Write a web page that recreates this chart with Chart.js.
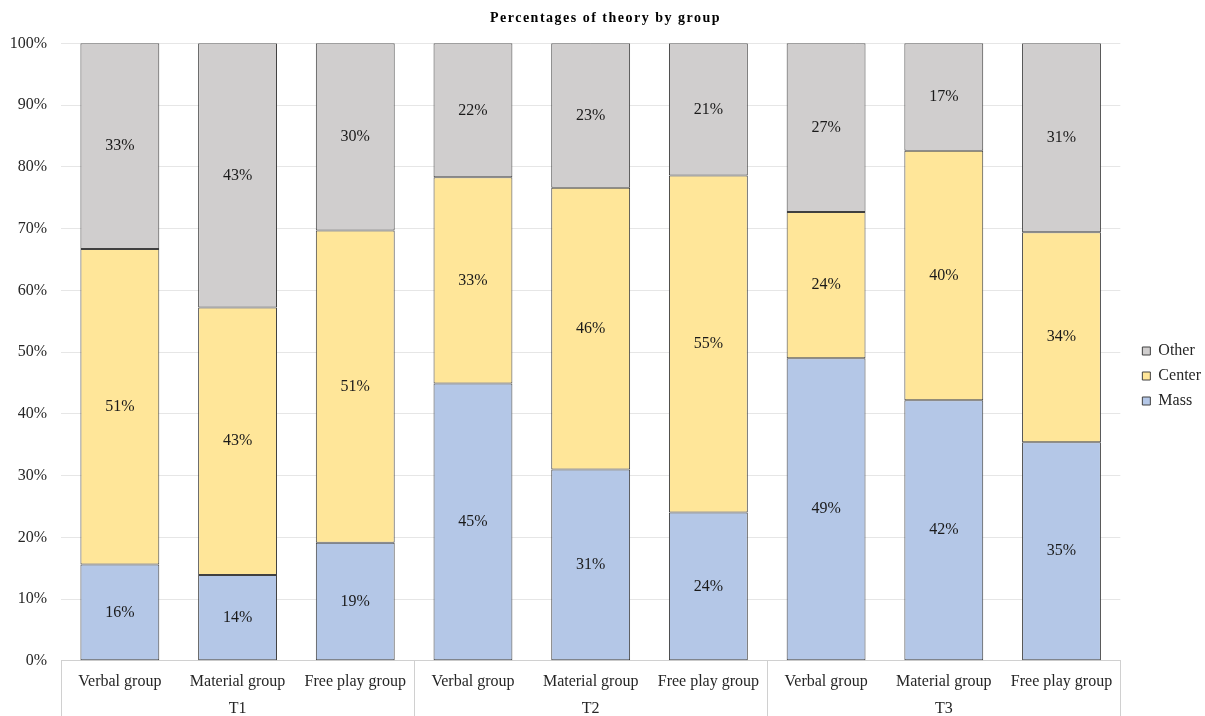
<!DOCTYPE html>
<html>
<head>
<meta charset="utf-8">
<title>Percentages of theory by group</title>
<script src="https://cdn.jsdelivr.net/npm/chart.js@4.4.1/dist/chart.umd.min.js"></script>
<style>
  html, body { margin: 0; padding: 0; background: #fff; }
  #wrap { width: 1205px; height: 716px; }
</style>
</head>
<body>
<div id="wrap"><canvas id="chart" width="1205" height="716"></canvas></div>
<script>
// categories (three per time point) and the time points under them
const categories = [
  "Verbal group", "Material group", "Free play group",
  "Verbal group", "Material group", "Free play group",
  "Verbal group", "Material group", "Free play group",
];
const groups = ["T1", "T2", "T3"];

// percentages
const mass = [15.6, 13.9, 19.1, 44.9, 31.0, 24.0, 49.0, 42.2, 35.4];
const center = [51.1, 43.3, 50.6, 33.4, 45.6, 54.6, 23.7, 40.4, 34.0];
const other = [33.3, 42.8, 30.3, 21.7, 23.4, 21.4, 27.3, 17.4, 30.6];

const yTicks = [0, 10, 20, 30, 40, 50, 60, 70, 80, 90, 100];

const SERIF = "'Liberation Serif', 'Times New Roman', serif";
const TEXT = "#262626";
Chart.defaults.font.family = SERIF;
Chart.defaults.color = TEXT;

// value labels in the middle of every segment
const segmentLabels = {
  id: "segmentLabels",
  afterDatasetsDraw(chart) {
    const ctx = chart.ctx;
    ctx.save();
    ctx.font = "16px " + SERIF;
    ctx.fillStyle = "#1a1a1a";
    ctx.textAlign = "center";
    ctx.textBaseline = "middle";
    chart.data.datasets.forEach((ds, i) => {
      const meta = chart.getDatasetMeta(i);
      meta.data.forEach((bar, j) => {
        const y = (bar.y + bar.base) / 2;
        ctx.fillText(Math.round(ds.data[j]) + "%", bar.x, y);
      });
    });
    ctx.restore();
  },
};

// vertical separators between the time point groups, below the plot
const groupLines = {
  id: "groupLines",
  afterDraw(chart) {
    const x = chart.scales.x;
    const per = categories.length / groups.length;
    const ctx = chart.ctx;
    ctx.save();
    ctx.strokeStyle = "#D0D0D0";
    ctx.lineWidth = 1;
    for (let g = 0; g <= groups.length; g++) {
      const px = Math.round(x.getPixelForValue(g * per - 0.5)) + 0.5;
      ctx.beginPath();
      ctx.moveTo(px, chart.chartArea.bottom);
      ctx.lineTo(px, chart.height);
      ctx.stroke();
    }
    ctx.restore();
  },
};

// spaced-out bold title
const titleSpacing = {
  id: "titleSpacing",
  beforeDraw(chart) {
    const tb = chart.titleBlock;
    if (tb && !tb._spaced) {
      const orig = tb.draw.bind(tb);
      tb.draw = function () {
        chart.ctx.save();
        chart.ctx.letterSpacing = "1.5px";
        orig();
        chart.ctx.restore();
      };
      tb._spaced = true;
    }
  },
};

new Chart(document.getElementById("chart").getContext("2d"), {
  type: "bar",
  data: {
    labels: categories,
    datasets: [
      {
        label: "Mass",
        data: mass,
        backgroundColor: "#B4C7E7",
        borderColor: "#404040",
        borderWidth: 1,
        borderSkipped: false,
      },
      {
        label: "Center",
        data: center,
        backgroundColor: "#FFE699",
        borderColor: "#404040",
        borderWidth: 1,
        borderSkipped: false,
      },
      {
        label: "Other",
        data: other,
        backgroundColor: "#D0CECE",
        borderColor: "#404040",
        borderWidth: 1,
        borderSkipped: false,
      },
    ],
  },
  options: {
    responsive: false,
    animation: false,
    layout: { padding: { left: 0, right: -6, top: 0, bottom: 0 } },
    datasets: {
      bar: { barPercentage: 0.67, categoryPercentage: 1 },
    },
    plugins: {
      title: {
        display: true,
        text: "Percentages of theory by group",
        color: "#000",
        font: { size: 14, weight: "bold", family: SERIF },
        padding: { top: 10, bottom: 16.5 },
      },
      legend: {
        position: "right",
        reverse: true,
        title: {
          display: true,
          text: "",
          font: { size: 10, lineHeight: 1 },
          padding: { top: 26, bottom: 0 },
        },
        labels: {
          boxWidth: 8,
          boxHeight: 8,
          padding: 9,
          color: TEXT,
          font: { size: 16, family: SERIF },
        },
      },
      tooltip: { enabled: false },
    },
    scales: {
      x: {
        stacked: true,
        grid: { display: false, drawTicks: false },
        border: { display: true, color: "#D0D0D0", width: 1 },
        ticks: {
          padding: 11,
          color: TEXT,
          maxRotation: 0,
          autoSkip: false,
          font: { size: 16, family: SERIF, lineHeight: 1.2 },
        },
      },
      x2: {
        type: "category",
        labels: groups,
        position: "bottom",
        offset: true,
        grid: { display: false, drawTicks: false },
        border: { display: false },
        ticks: {
          padding: 0,
          color: TEXT,
          maxRotation: 0,
          font: { size: 16, family: SERIF, lineHeight: 0.875 },
        },
      },
      y: {
        stacked: true,
        min: 0,
        max: 100,
        grid: { color: "#E6E6E6", drawTicks: false },
        border: { display: false },
        afterBuildTicks(scale) {
          scale.ticks = yTicks.map((v) => ({ value: v }));
        },
        afterFit(scale) {
          scale.width = 61;
        },
        ticks: {
          padding: 14,
          color: TEXT,
          font: { size: 16, family: SERIF },
          callback: (v) => v + "%",
        },
      },
      // empty right axis, keeps the gap between plot and legend
      ySpace: {
        type: "linear",
        position: "right",
        display: true,
        grid: { display: false, drawTicks: false },
        border: { display: false },
        ticks: { display: false },
        afterFit(scale) {
          scale.width = 13;
        },
      },
    },
  },
  plugins: [segmentLabels, groupLines, titleSpacing],
});
</script>
</body>
</html>
